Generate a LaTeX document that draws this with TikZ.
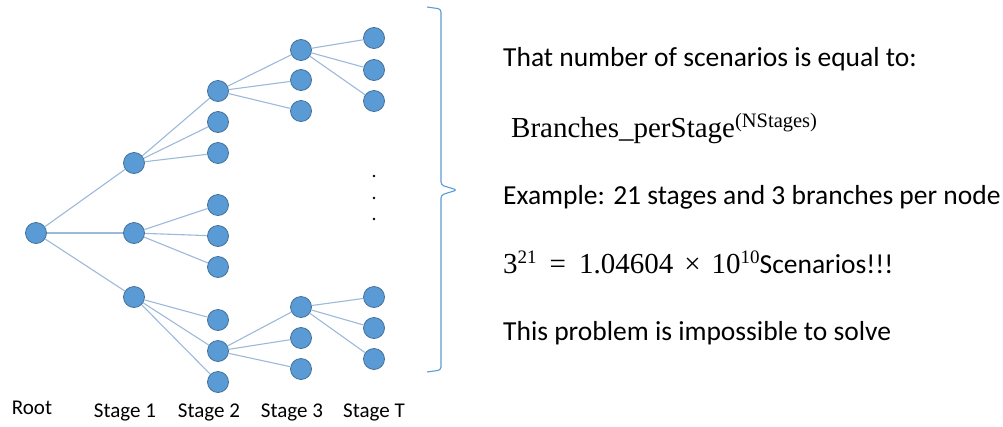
\documentclass[tikz,border=0pt]{standalone}
\usepackage[no-math]{fontspec}
\setmainfont{Carlito}
\newfontfamily\formulafont{Liberation Serif}
\usepackage{tikz}
\usetikzlibrary{positioning}

\definecolor{nodefill}{HTML}{5B9BD5}
\definecolor{nodeline}{HTML}{41719C}
\definecolor{branchcol}{HTML}{9DB9DA}

% raised index in the formula lines
\newcommand{\upidx}[2][19]{\raisebox{10pt}{\fontsize{#1}{#1}\selectfont #2}}

\tikzset{
  scen/.style={circle, fill=nodefill, draw=nodeline, line width=0.8pt,
    minimum size=21pt, inner sep=0pt},
  branch/.style={draw=branchcol, line width=1.1pt},
  stagelabel/.style={font=\fontsize{21}{24}\selectfont, anchor=base},
  infotext/.style={font=\fontsize{27.5}{32}\selectfont, anchor=base west, inner sep=0pt}
}

\begin{document}
\begin{tikzpicture}[x=1pt, y=-1pt]
  \useasboundingbox (0,0) rectangle (1003,426);
  % ---------- TREE NODES ----------
  \node[scen] (root) at (36,233) {};
  % stage 1
  \node[scen] (s1a) at (134,163) {};
  \node[scen] (s1b) at (134,233) {};
  \node[scen] (s1c) at (134,297) {};
  % stage 2
  \foreach \n/\y in {a/91,b/122,c/153,d/205,e/236,f/267,g/320,h/351,i/382}
    \node[scen] (s2\n) at (218,\y) {};
  % stage 3
  \foreach \n/\y in {a/50,b/80,c/111,d/307,e/338,f/369}
    \node[scen] (s3\n) at (301,\y) {};
  % stage T
  \foreach \n/\y in {a/38,b/70,c/101,d/297,e/328,f/359}
    \node[scen] (sT\n) at (374,\y) {};
  % ---------- BRANCHES ----------
  \foreach \c in {s1a,s1b,s1c} \draw[branch] (root) -- (\c);
  \foreach \c in {s2a,s2b,s2c} \draw[branch] (s1a) -- (\c);
  \foreach \c in {s2d,s2e,s2f} \draw[branch] (s1b) -- (\c);
  \foreach \c in {s2g,s2h,s2i} \draw[branch] (s1c) -- (\c);
  \foreach \c in {s3a,s3b,s3c} \draw[branch] (s2a) -- (\c);
  \foreach \c in {s3d,s3e,s3f} \draw[branch] (s2h) -- (\c);
  \foreach \c in {sTa,sTb,sTc} \draw[branch] (s3a) -- (\c);
  \foreach \c in {sTd,sTe,sTf} \draw[branch] (s3d) -- (\c);
  % vertical dots between the leaf groups
  \foreach \y in {176,198,219} \fill (374,\y) circle (1.3pt);
  % ---------- STAGE LABELS ----------
  \node[stagelabel] (lroot) at (32,414) {Root};
  \node[stagelabel] (l1) at (125,417) {Stage 1};
  \node[stagelabel] (l2) at (209,417) {Stage 2};
  \node[stagelabel] (l3) at (292,417) {Stage 3};
  \node[stagelabel] (lT) at (374,417) {Stage T};
  % ---------- BRACE ----------
  \draw[nodefill, line width=1.1pt, rounded corners=3pt]
    (427,7) -- (441,9) -- (441,185) -- (457,190) -- (441,195) -- (441,370) -- (427,372);
  % ---------- TEXT ----------
  \node[infotext] (t1) at (503,66) {That number of scenarios is equal to:};
  \node[infotext, font=\fontsize{29}{32}\selectfont\formulafont] (t2) at (511,137)
    {Branches\_perStage\upidx[20.5]{(NStages)}};
  \node[infotext] (t3) at (503,204) {Example: 21 stages and 3 branches per node};
  \node[infotext] (t4) at (503,273)
    {{\fontsize{29}{32}\selectfont\formulafont
      3\upidx{21}\hspace{13pt}=\hspace{13pt}1.04604\hspace{11pt}×\hspace{11pt}10\upidx{10}}Scenarios!!!};
  \node[infotext] (t5) at (503,340) {This problem is impossible to solve};
\end{tikzpicture}
\end{document}
